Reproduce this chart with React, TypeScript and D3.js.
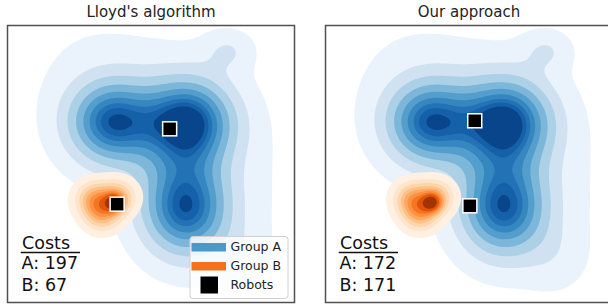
import { useMemo } from "react";
import * as d3 from "d3";

const W = 608;
const H = 308;
const panelW = 287;
const panelH = 277;
const panelTop = 25.5;
const panelLefts = [7.5, 325.5];

const titles = ["Lloyd's algorithm", "Our approach"];
const costsA = [197, 172];
const costsB = [67, 171];

// robot positions per panel, in % of panel (x right, y down)
const robotsX = [[56.5, 38.2], [52.0, 50.3]];
const robotsY = [[37.3, 64.5], [34.4, 65.1]];

const groupACx = [36, 63, 62, 54, 77, 80];
const groupACy = [35, 35, 66, 36, 9, 84];
const groupASx = [10.5, 11, 10.5, 27, 6, 8];
const groupASy = [10.5, 11, 12, 25, 5, 9];
const groupARho = [0, 0, 0, 0.55, 0, 0];
const groupAW = [0.85, 1.05, 1.05, 0.65, 0.05, 0.07];

// Group B density
const groupBCx = [30, 38.5, 33, 37];
const groupBCy = [62.5, 62, 68, 64];
const groupBSx = [4.3, 4.3, 4.3, 2.2];
const groupBSy = [4.3, 4.3, 4.3, 2.2];
const groupBRho = [0, 0, 0, 0];
const groupBW = [1, 1, 1, 0.35];

const isoProps = [0.05, 0.155, 0.261, 0.366, 0.472, 0.577, 0.683, 0.788, 0.894, 1.0];

const blues9 = ["#f7fbff", "#deebf7", "#c6dbef", "#9ecae1", "#6baed6", "#4292c6", "#2171b5", "#08519c", "#08306b"];
const oranges9 = ["#fff5eb", "#fee6ce", "#fdd0a2", "#fdae6b", "#fd8d3c", "#f16913", "#d94801", "#a63603", "#7f2704"];

const legendLabels = ["Group A", "Group B", "Robots"];
const legendColors = ["#4b98ca", "#f3711c", "#000000"];

const gMin = -10;
const gMax = 110;
const nx = 240;
const ny = 240;
const step = (gMax - gMin) / nx;

function buildBands(cx: number[], cy: number[], sx: number[], sy: number[], rho: number[], w: number[], colors: string[]) {
  const values = new Float64Array(nx * ny);
  for (let j = 0; j < ny; j++) {
    const y = gMin + (j + 0.5) * step;
    for (let i = 0; i < nx; i++) {
      const x = gMin + (i + 0.5) * step;
      let v = 0;
      for (let k = 0; k < cx.length; k++) {
        const dx = (x - cx[k]) / sx[k];
        const dy = (y - cy[k]) / sy[k];
        const r = rho[k];
        const q = (dx * dx - 2 * r * dx * dy + dy * dy) / (1 - r * r);
        v += (w[k] / (sx[k] * sy[k] * Math.sqrt(1 - r * r))) * Math.exp(-0.5 * q);
      }
      values[j * nx + i] = v;
    }
  }
  // iso-proportion levels
  const sorted = Float64Array.from(values).sort();
  const total = d3.sum(sorted);
  let acc = 0;
  const cums = Array.from(sorted, (v) => (acc += v) / total);
  const levels = isoProps.map((q) => sorted[Math.min(sorted.length - 1, d3.bisectLeft(cums, q))]);
  const cmap = d3.piecewise(d3.interpolateRgb, colors);
  const lo = levels[0];
  const hi = levels[levels.length - 1];
  const contours = d3.contours().size([nx, ny]).thresholds(levels.slice(0, -1))(Array.from(values));
  return contours.map((c, i) => ({
    geom: c,
    color: cmap(((levels[i] + levels[i + 1]) / 2 - lo) / (hi - lo)),
  }));
}

export default function App() {
  const xs = d3.scaleLinear().domain([0, 100]).range([0, panelW]);
  const ys = d3.scaleLinear().domain([0, 100]).range([0, panelH]);

  const path = useMemo(() => {
    const proj = d3.geoTransform({
      point(px: number, py: number) {
        this.stream.point(xs(gMin + px * step), ys(gMin + py * step));
      },
    });
    return d3.geoPath(proj);
  }, []);

  const bandsA = useMemo(() => buildBands(groupACx, groupACy, groupASx, groupASy, groupARho, groupAW, blues9), []);
  const bandsB = useMemo(() => buildBands(groupBCx, groupBCy, groupBSx, groupBSy, groupBRho, groupBW, oranges9), []);

  const font = "DejaVu Sans, sans-serif";

  return (
    <svg width={W} height={H} style={{ position: "fixed", left: 0, top: 0, background: "#fff" }} fontFamily={font}>
      <defs>
        <clipPath id="panelClip">
          <rect x={0} y={0} width={panelW} height={panelH} />
        </clipPath>
      </defs>
      {panelLefts.map((left, p) => (
        <g key={p} transform={`translate(${left},${panelTop})`}>
          <text x={panelW / 2} y={-8.5} textAnchor="middle" fontSize={15} fill="#222">
            {titles[p]}
          </text>
          <g clipPath="url(#panelClip)">
            {bandsA.map((b, i) => (
              <path key={"a" + i} d={path(b.geom) || ""} fill={b.color} />
            ))}
            {bandsB.map((b, i) => (
              <path key={"b" + i} d={path(b.geom) || ""} fill={b.color} />
            ))}
            {robotsX[p].map((rx, i) => (
              <rect
                key={"r" + i}
                x={xs(rx) - 7}
                y={ys(robotsY[p][i]) - 7}
                width={14}
                height={14}
                fill="#000"
                stroke="#fff"
                strokeWidth={1.5}
              />
            ))}
          </g>
          <g fontSize={17.5} fill="#111">
            <text x={14.5} y={223.5}>Costs</text>
            <line x1={13.2} x2={72.5} y1={227} y2={227} stroke="#111" strokeWidth={1.6} />
            <text x={14} y={243.5}>A: {costsA[p]}</text>
            <text x={14} y={265}>B: {costsB[p]}</text>
          </g>
          {p === 0 && (
            <g transform={`translate(${182.5},${211})`}>
              <rect x={0} y={0} width={98} height={62} rx={3} fill="#fff" fillOpacity={0.8} stroke="#d0d0d0" />
              {legendLabels.map((lab, i) =>
                <g key={lab} transform={`translate(0,${6 + i * 19})`}>
                  {i < 2 ? (
                    <rect x={1.5} y={0.5} width={34.5} height={8.5} fill={legendColors[i]} />
                  ) : (
                    <rect x={10.5} y={-4} width={17.5} height={17} fill={legendColors[i]} />
                  )}
                  <text x={40.5} y={8.8} fontSize={12.5} fill="#222">{lab}</text>
                </g>
              )}
            </g>
          )}
          <rect x={0} y={0} width={panelW} height={panelH} fill="none" stroke="#505050" strokeWidth={1.5} />
        </g>
      ))}
    </svg>
  );
}
